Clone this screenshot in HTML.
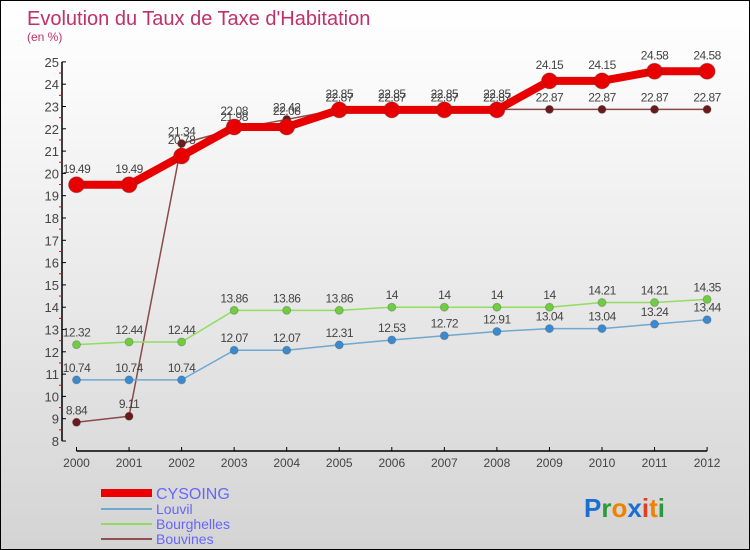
<!DOCTYPE html>
<html><head><meta charset="utf-8"><style>
body{margin:0;}
#c{position:relative;width:748px;height:548px;border:1px solid #000;background:linear-gradient(#fff,#fafafa 15%,#d4d4d4);overflow:hidden;font-family:"Liberation Sans",sans-serif;}
</style></head><body>
<div id="c">
<svg id="s" width="748" height="548">
<text x="26" y="24" font-size="20" fill="#c0306a">Evolution du Taux de Taxe d'Habitation</text>
<text x="26" y="40" font-size="12" fill="#c0306a">(en %)</text>
<g id="g"></g>
<g>
<rect x="100" y="488" width="51" height="8" fill="#e00"/>
<text x="155" y="498" font-size="16" fill="#6666ff">CYSOING</text>
<line x1="100" y1="508" x2="151" y2="508" stroke="#6fa8d0" stroke-width="2"/>
<text x="155" y="513" font-size="14" fill="#6666ff">Louvil</text>
<line x1="100" y1="523" x2="151" y2="523" stroke="#90dd60" stroke-width="2"/>
<text x="155" y="528" font-size="14" fill="#6666ff">Bourghelles</text>
<line x1="100" y1="538" x2="151" y2="538" stroke="#905050" stroke-width="2"/>
<text x="155" y="543" font-size="14" fill="#6666ff">Bouvines</text>
</g>
<text x="583" y="516" font-size="26" font-weight="bold"><tspan fill="#1a6fd0">P</tspan><tspan fill="#2a9a3a">r</tspan><tspan fill="#f08000">o</tspan><tspan fill="#1a6fd0">x</tspan><tspan fill="#e04020">i</tspan><tspan fill="#f08000">t</tspan><tspan fill="#2a9a3a">i</tspan></text>
</svg></div>
<script>
const years=[2000,2001,2002,2003,2004,2005,2006,2007,2008,2009,2010,2011,2012];
const yTicks=[8,9,10,11,12,13,14,15,16,17,18,19,20,21,22,23,24,25];
const cysoing=[19.49,19.49,20.78,22.08,22.08,22.85,22.85,22.85,22.85,24.15,24.15,24.58,24.58];
const louvil=[10.74,10.74,10.74,12.07,12.07,12.31,12.53,12.72,12.91,13.04,13.04,13.24,13.44];
const bourghelles=[12.32,12.44,12.44,13.86,13.86,13.86,14,14,14,14,14.21,14.21,14.35];
const bouvines=[8.84,9.11,21.34,21.98,22.42,22.87,22.87,22.87,22.87,22.87,22.87,22.87,22.87];
const NS='http://www.w3.org/2000/svg';
const g=document.getElementById('g');
const X=i=>75.5+i*52.55;
const Y=v=>440-(v-8)*22.3;
function el(t,a){const e=document.createElementNS(NS,t);for(const k in a)e.setAttribute(k,a[k]);g.appendChild(e);return e;}
let ax=el('line',{x1:61,y1:Y(25),x2:61,y2:Y(8),stroke:'#000','stroke-width':1.5});

let xa=el('line',{x1:75.5,y1:450,x2:X(12),y2:450,stroke:'#000','stroke-width':1.5});

yTicks.forEach(v=>{
 el('line',{x1:61,y1:Y(v),x2:65,y2:Y(v),stroke:'#000'});
 if(v<25)el('line',{x1:58,y1:Y(v+0.5),x2:61,y2:Y(v+0.5),stroke:'#e00'});
 const t=el('text',{x:58,y:Y(v)+5,'font-size':13,fill:'#444','text-anchor':'end'});t.textContent=v;
 
});
years.forEach((y,i)=>{
 el('line',{x1:X(i),y1:446,x2:X(i),y2:450,stroke:'#000'});
 const t=el('text',{x:X(i),y:466,'font-size':12,fill:'#444','text-anchor':'middle'});t.textContent=y;
 
});
function series(d,name,col,dot,w,r,lab){
 const p=el('polyline',{points:d.map((v,i)=>X(i)+','+Y(v)).join(' '),fill:'none',stroke:col,'stroke-width':w,'stroke-linejoin':'round'});
 
 d.forEach((v,i)=>{
  const c=el('circle',{cx:X(i),cy:Y(v),r:r,fill:dot,stroke:'#444','stroke-opacity':0.3});
  
  const t=el('text',{x:X(i),y:Y(v)-lab,'font-size':12,fill:'#444','text-anchor':'middle','letter-spacing':'-0.5'});t.textContent=v;
  
 });
}
series(bouvines,'bouvines','#8a4a4a','#6a1a1a',1.5,4,8);
series(louvil,'louvil','#6fa8d0','#3a8ad0',1.5,4,8);
series(bourghelles,'bourghelles','#90dd60','#70cc40',1.5,4,8);
series(cysoing,'cysoing','#e80000','#e80000',8,8,12);
</script>
</body></html>
